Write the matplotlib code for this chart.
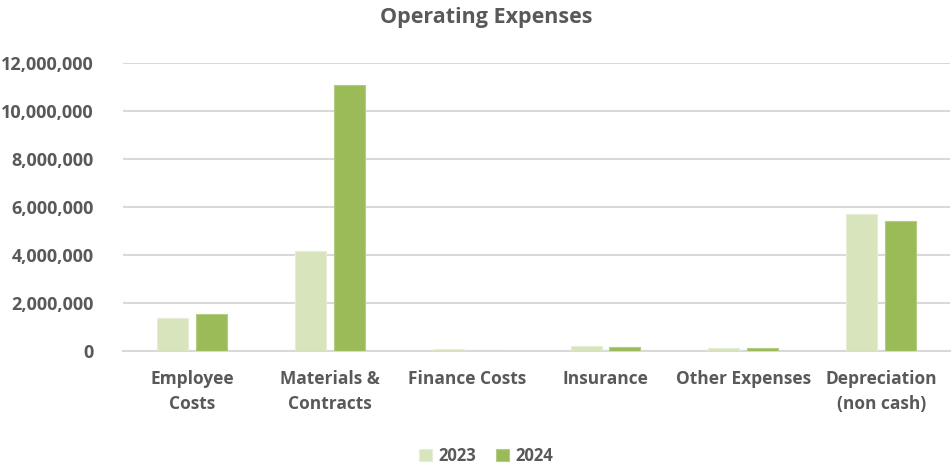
import numpy as np
import matplotlib.pyplot as plt
from matplotlib.ticker import FuncFormatter

# data
categories = ['Employee\nCosts', 'Materials &\nContracts', 'Finance Costs',
              'Insurance', 'Other Expenses', 'Depreciation\n(non cash)']
values_2023 = [1365000, 4170000, 70000, 195000, 145000, 5700000]
values_2024 = [1530000, 11110000, 0, 175000, 135000, 5410000]
years = ['2023', '2024']

colors = {'2023': '#D8E4BC', '2024': '#9BBB59'}
text_color = '#595959'
grid_color = '#D9D9D9'

plt.rcParams['font.family'] = ['Open Sans', 'DejaVu Sans']

fig = plt.figure(figsize=(9.53, 4.68), dpi=100)
ax = fig.add_axes([0.129, 0.25, 0.868, 0.615])

x = np.arange(len(categories))
bw = 0.225
off = 0.141
ax.bar(x - off, values_2023, width=bw, color=colors['2023'],
       edgecolor='#E6EED6', linewidth=0.8, label=years[0], zorder=3)
ax.bar(x + off, values_2024, width=bw, color=colors['2024'],
       edgecolor='#B4CC84', linewidth=0.8, label=years[1], zorder=3)

ax.set_xlim(-0.5, len(categories) - 0.5)
ax.set_ylim(0, 12000000)
ax.set_yticks(np.arange(0, 12000001, 2000000))
ax.yaxis.set_major_formatter(FuncFormatter(lambda v, p: f'{int(v):,}'))
ax.grid(axis='y', color=grid_color, linewidth=1.5, zorder=0)
ax.set_axisbelow(True)

for s in ['top', 'right', 'left']:
    ax.spines[s].set_visible(False)
ax.spines['bottom'].set_color(grid_color)
ax.spines['bottom'].set_linewidth(1.5)

ax.set_xticks(x)
ax.set_xticklabels(categories, linespacing=1.5)
ax.tick_params(axis='x', length=0, pad=14, labelsize=12.5, labelcolor=text_color)
ax.tick_params(axis='y', length=0, pad=21, labelsize=13, labelcolor=text_color)
for lbl in ax.get_xticklabels() + ax.get_yticklabels():
    lbl.set_fontweight('bold')

fig.suptitle('Operating Expenses', x=0.51, y=0.985, fontsize=15.5,
             fontweight='bold', color=text_color)

leg = fig.legend(loc='lower center', bbox_to_anchor=(0.51, -0.025), ncol=2,
                 frameon=False, prop={'size': 12, 'weight': 'bold'},
                 handlelength=0.75, handleheight=0.75, handletextpad=0.4,
                 columnspacing=1.2)
for t in leg.get_texts():
    t.set_color(text_color)

fig.savefig('out.png', dpi=100, facecolor='white')
